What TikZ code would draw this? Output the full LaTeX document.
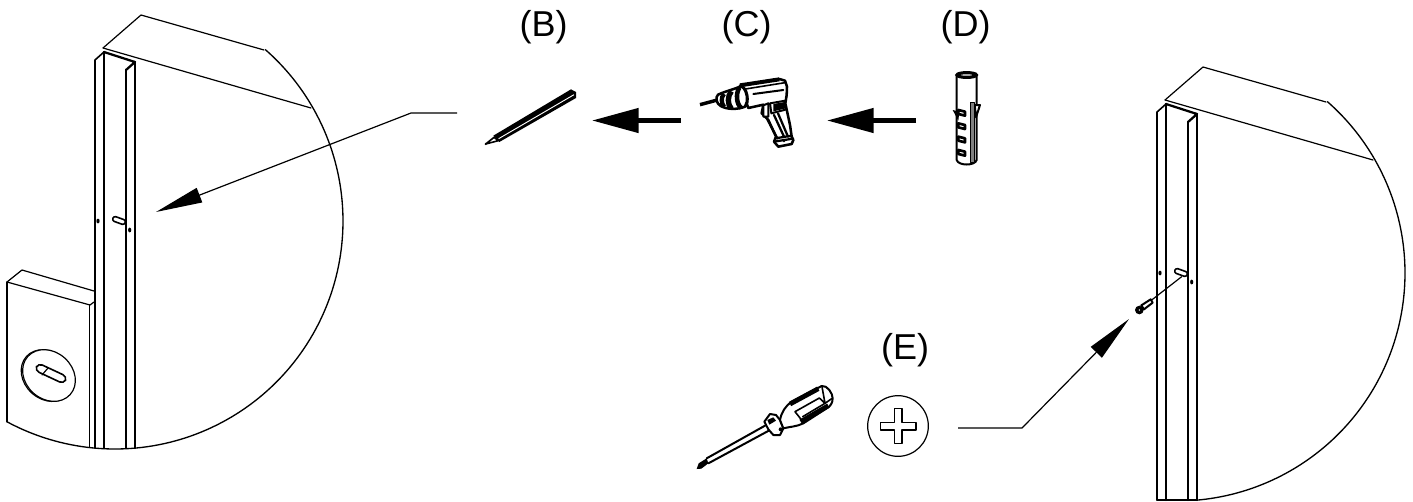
\documentclass[tikz,border=0pt]{standalone}
\usepackage{fontspec}
\setmainfont{Liberation Sans}
\usetikzlibrary{arrows.meta}
\tikzset{
  thinline/.style={line width=0.9pt,line join=round,line cap=round},
  midline/.style={line width=1.2pt,line join=round,line cap=round},
  heavyline/.style={line width=1.7pt,line join=round,line cap=round},
  toolline/.style={line width=1.5pt,line join=round,line cap=round},
  leader/.style={line width=0.9pt,-{Triangle[length=35pt,width=11.5pt]}},
  flowarrow/.style={line width=3.4pt,-{Triangle[length=35pt,width=18pt]}},
  steplabel/.style={font=\fontsize{27}{31}\selectfont,inner sep=0pt},
  zoomed/.style={shift={#1},scale=1/3},
}
\newcommand{\bracketwall}[4]{%
 \begin{scope}[shift={(#1,#2)}]
  \draw[thinline] (103,48) -- (141,15) -- (264,50);
  \draw[thinline] (103,48) -- (311,108);
  \draw[line width=1pt,line join=round] plot[domain=-48.8:#4,samples=120] ({115+228*cos(\x)},{221+228*sin(\x)});
  \draw[midline] (95,#3) -- (95,60) -- (104,52);
  \draw[heavyline] (104,52) -- (104,#3);
  \draw[heavyline] (104,52) -- (135,62) -- (126,70);
  \draw[heavyline] (126,70) -- (126,#3);
  \draw[heavyline] (135,62) -- (135,#3);
  \draw[midline,rounded corners=1.8pt,rotate around={-20:(119,220.5)}] (112.5,218) rectangle (125.5,223);
  \fill (98,221) ellipse[x radius=1.6,y radius=2.4];
  \fill (129.7,230) ellipse[x radius=1.6,y radius=2.4];
 \end{scope}}
\begin{document}
\begin{tikzpicture}[x=0.75pt,y=-0.75pt]
\useasboundingbox (0,0) rectangle (1413,501);
% left wall
\bracketwall{0}{0}{448}{118.2}
% lower-left plate
\draw[thinline] (7,282) -- (22,270) -- (94,291);
\draw[thinline] (7,282) -- (90,305) -- (94,302);
\draw[thinline] (7,282) -- (7,422);
\draw[thinline] (89.5,305) -- (89.5,447);
\begin{scope}[rotate around={-42:(49,375.5)}]
 \draw[thinline] (48,376.5) ellipse[x radius=28.5,y radius=23.5];
 \draw[thinline,fill=white] (49,375.5) ellipse[x radius=28.5,y radius=23.5];
\end{scope}
\draw[midline,rounded corners=3.4pt,rotate around={-25:(51,373.5)}] (35,369.5) rectangle (67,377.5);
\draw[thinline] (42,375) -- (48,368);
% right wall
\bracketwall{1062}{52}{448}{85}
\draw[midline] (1157,500) -- (1197,500);
% screw
\begin{scope}[zoomed={(1120,230)}]
 \draw[thinline] (185,140) -- (95,210);
 \draw[toolline,fill=white] (92,208) -- (64,226) -- (72,238) -- (98,218) -- cycle;
 \fill (58,240) circle[radius=13];
 \fill[white] (58,240) circle[radius=2.5];
\end{scope}
% pencil
\begin{scope}[zoomed={(470,70)}]
 \fill (70,197) -- (303,58) -- (318,66) -- (318,84) -- (88,216) -- cycle;
 \draw[white,line width=0.7pt] (86,206) -- (312,74);
 \draw[midline,fill=white] (47,222) -- (72,202) -- (85,212) -- cycle;
 \fill (47,222) circle[radius=3.5];
\end{scope}
% drill
\begin{scope}[zoomed={(690,70)}]
 \draw[line width=2.6pt] (30,104) -- (82,90);
 \draw[line width=1.9pt,line join=round,fill=white] (215,130) -- (220,104) -- (175,114) -- (150,47) -- (268,27) -- (285,32) -- (291,50) -- (290,75) -- (286,100) -- (300,165) -- (305,200) -- (310,210) -- (305,222) -- (265,230) -- (252,215) -- (258,200) -- (235,150) -- (225,140) -- cycle;
 \draw[line width=3pt] (150,46) -- (268,28);
 \draw[toolline] (190,72) -- (280,60);
 \draw[midline] (160,58) -- (285,38);
 \draw[toolline,fill=white] (220,106) -- (235,100) -- (235,140) -- (220,140) -- cycle;
 \draw[toolline] (240,100) -- (286,92) (240,100) -- (244,130) -- (290,118);
 \draw[heavyline] (232,148) -- (262,205) (252,135) -- (282,200) (264,130) -- (294,200);
 \draw[heavyline] (256,205) -- (305,197) (258,214) -- (308,206);
 \fill (250,102) -- (284,96) -- (288,115) -- (250,124) -- cycle;
 \fill (282,212) circle[radius=5];
 % chuck: one tapered body with dark bands
 \draw[line width=1.9pt,line join=round,fill=white] (84,74) .. controls (100,66) and (125,60) .. (150,50) .. controls (172,46) and (180,100) .. (165,110) .. controls (140,120) and (110,118) .. (92,108) .. controls (78,100) and (76,82) .. (84,74) -- cycle;
 \draw[line width=3.2pt] (102,72) .. controls (92,82) and (94,100) .. (102,110);
 \draw[line width=4pt] (124,64) .. controls (112,78) and (112,104) .. (124,116);
 \draw[line width=3.4pt] (148,53) .. controls (136,72) and (140,104) .. (154,114);
 \draw[line width=1.9pt] (158,50) .. controls (172,66) and (176,92) .. (165,110);
\end{scope}
% wall plug
\begin{scope}[zoomed={(930,60)}]
 \draw[toolline] (80,45) -- (80,300) .. controls (85,318) and (135,318) .. (140,300) -- (140,45);
 \draw[line width=2.4pt] (110,45) ellipse[x radius=29,y radius=7];
 \draw[toolline,fill=white] (134,135) -- (150,135) -- (138,172) -- cycle;
 \draw[midline,fill=gray] (122,128) rectangle (134,308);
 \fill (68,150) -- (88,155) -- (85,182) -- cycle;
 \foreach \yy in {150,190,230,270}{
  \draw[line width=2pt,line join=round,fill=white] (85,\yy) -- (105,\yy+5) -- (105,\yy+17) -- (85,\yy+12) -- cycle;
 }
\end{scope}
% screwdriver
\begin{scope}[zoomed={(690,370)}]
 \draw[toolline] (50,265) -- (225,167) (55,280) -- (240,180);
 \fill (20,297) -- (26,280) -- (50,265) -- (55,280) -- (34,296) -- cycle;
 \draw[toolline,fill=white] (223,155) -- (240,132) -- (258,135) -- (270,150) -- (280,175) -- (270,195) -- (250,195) -- (235,178) -- cycle;
 \fill (238,164) -- (258,152) -- (250,142) -- (232,150) -- cycle;
 \draw[toolline,fill=white] (270,150) .. controls (275,125) and (285,110) .. (305,95) -- (395,48) .. controls (412,45) and (428,70) .. (428,85) .. controls (428,100) and (420,110) .. (410,115) -- (340,160) .. controls (320,170) and (300,170) .. (280,175) -- cycle;
 \draw[line width=3.6pt] (300,102) -- (385,56) (332,155) -- (415,107);
 \draw[midline] (315,125) -- (388,84) -- (405,100) -- (425,86) (396,50) -- (405,100) (315,125) -- (335,150) (405,100) -- (338,140);
 \fill (272,178) circle[radius=6];
\end{scope}
% phillips head
\node[circle,draw,thinline,minimum size=45.5pt,inner sep=0pt] (head) at (898,426) {};
\begin{scope}[zoomed={(690,370)}]
 \draw[thinline] (613,116) -- (636,116) -- (636,157) -- (678,157) -- (678,180) -- (636,180) -- (636,220) -- (613,220) -- (613,180) -- (572,180) -- (572,157) -- (613,157) -- cycle;
\end{scope}
% labels
\node[steplabel] (lb) at (543.5,27.5) {(B)};
\node[steplabel] (lc) at (746.5,27.5) {(C)};
\node[steplabel] (ld) at (965.5,27.5) {(D)};
\node[steplabel] (le) at (905,350) {(E)};
% arrows
\coordinate (a1) at (457,113); \coordinate (a1k) at (411,113); \coordinate (a1t) at (156,212);
\draw[leader] (a1) -- (a1k) -- (a1t);
\coordinate (a2) at (681,120.5); \coordinate (a2t) at (592,120.5);
\draw[flowarrow] (a2) -- (a2t);
\coordinate (a3) at (916,120.5); \coordinate (a3t) at (827,120.5);
\draw[flowarrow] (a3) -- (a3t);
\coordinate (a4) at (958,428); \coordinate (a4k) at (1022,428); \coordinate (a4t) at (1129,319);
\draw[leader] (a4) -- (a4k) -- (a4t);
\end{tikzpicture}
\end{document}
